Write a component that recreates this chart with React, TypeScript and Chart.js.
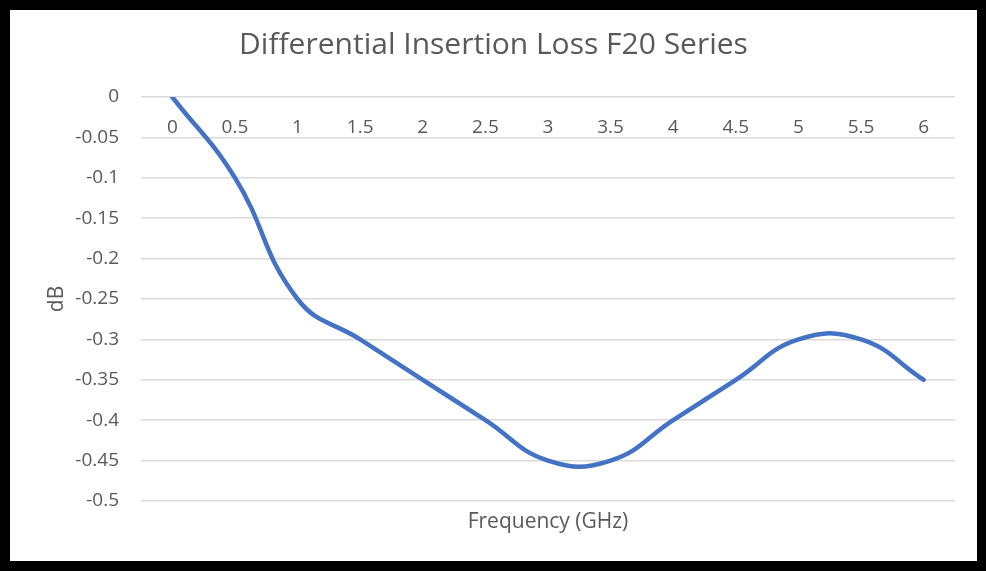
import React, { useEffect, useRef } from "react";
import { Chart, registerables } from "chart.js";

Chart.register(...registerables);

const TITLE = "Differential Insertion Loss F20 Series";
const X_TITLE = "Frequency (GHz)";
const Y_TITLE = "dB";
const frequencies = ["0", "0.5", "1", "1.5", "2", "2.5", "3", "3.5", "4", "4.5", "5", "5.5", "6"];
const lossDb = [0, -0.1, -0.25, -0.3, -0.35, -0.4, -0.45, -0.45, -0.4, -0.35, -0.3, -0.3, -0.35];
const Y_MIN = -0.5;
const Y_MAX = 0;
const Y_STEP = 0.05;

const FONT = "'Open Sans', sans-serif";
const TEXT = "#595959";
const GRID = "#d9d9d9";
const LINE = "#4472C4";

export default function App() {
  const ref = useRef<HTMLCanvasElement | null>(null);
  useEffect(() => {
    if (!ref.current) return;
    const chart = new Chart(ref.current, {
      type: "line",
      data: {
        labels: frequencies,
        datasets: [
          {
            data: lossDb,
            borderColor: LINE,
            backgroundColor: LINE,
            borderWidth: 4.5,
            borderCapStyle: "round",
            borderJoinStyle: "round",
            pointRadius: 0,
            tension: 0.45,
            fill: false,
            xAxisID: "x",
            yAxisID: "y",
          },
        ],
      },
      options: {
        animation: false,
        responsive: true,
        maintainAspectRatio: false,
        layout: { padding: 0 },
        plugins: {
          legend: { display: false },
          tooltip: { enabled: false },
          title: {
            display: true,
            text: TITLE,
            color: TEXT,
            font: { family: FONT, size: 30, weight: "normal" },
            padding: { top: 17, bottom: 34 },
          },
        },
        scales: {
          x: {
            type: "category",
            offset: true,
            position: { y: 0 } as any,
            grid: { display: false, drawTicks: false },
            border: { display: false },
            ticks: {
              color: TEXT,
              font: { family: FONT, size: 19 },
              padding: 19,
              maxRotation: 0,
              autoSkip: false,
            },
          },
          xTitle: {
            type: "category",
            position: "bottom",
            offset: true,
            grid: { display: false, drawTicks: false },
            border: { display: false },
            ticks: { display: false },
            title: {
              display: true,
              text: X_TITLE,
              color: TEXT,
              font: { family: FONT, size: 21 },
              padding: { top: 8.4, bottom: 26.4 },
            },
          },
          y: {
            type: "linear",
            position: "left",
            min: Y_MIN,
            max: Y_MAX,
            grid: { color: GRID, lineWidth: 1.5, drawTicks: false },
            border: { display: false },
            afterFit: (scale: any) => {
              scale.width = 131;
            },
            ticks: {
              stepSize: Y_STEP,
              color: TEXT,
              font: { family: FONT, size: 19 },
              padding: 22,
              callback: (v: any) => String(Math.round(Number(v) * 100) / 100),
            },
            title: {
              display: true,
              text: Y_TITLE,
              color: TEXT,
              font: { family: FONT, size: 21 },
              padding: { top: 34.4, bottom: 0 },
            },
          },
          yRight: {
            type: "linear",
            position: "right",
            min: Y_MIN,
            max: Y_MAX,
            grid: { display: false, drawTicks: false },
            border: { display: false },
            ticks: { display: false },
            afterFit: (scale: any) => {
              scale.width = 22;
            },
          },
        },
      },
    });
    return () => chart.destroy();
  }, []);

  return (
    <div
      style={{
        position: "fixed",
        left: 0,
        top: 0,
        width: 986,
        height: 571,
        background: "#000",
      }}
    >
      <div
        style={{
          position: "absolute",
          left: 10,
          top: 10,
          width: 967,
          height: 551,
          background: "#fff",
        }}
      >
        <canvas ref={ref} />
      </div>
    </div>
  );
}
